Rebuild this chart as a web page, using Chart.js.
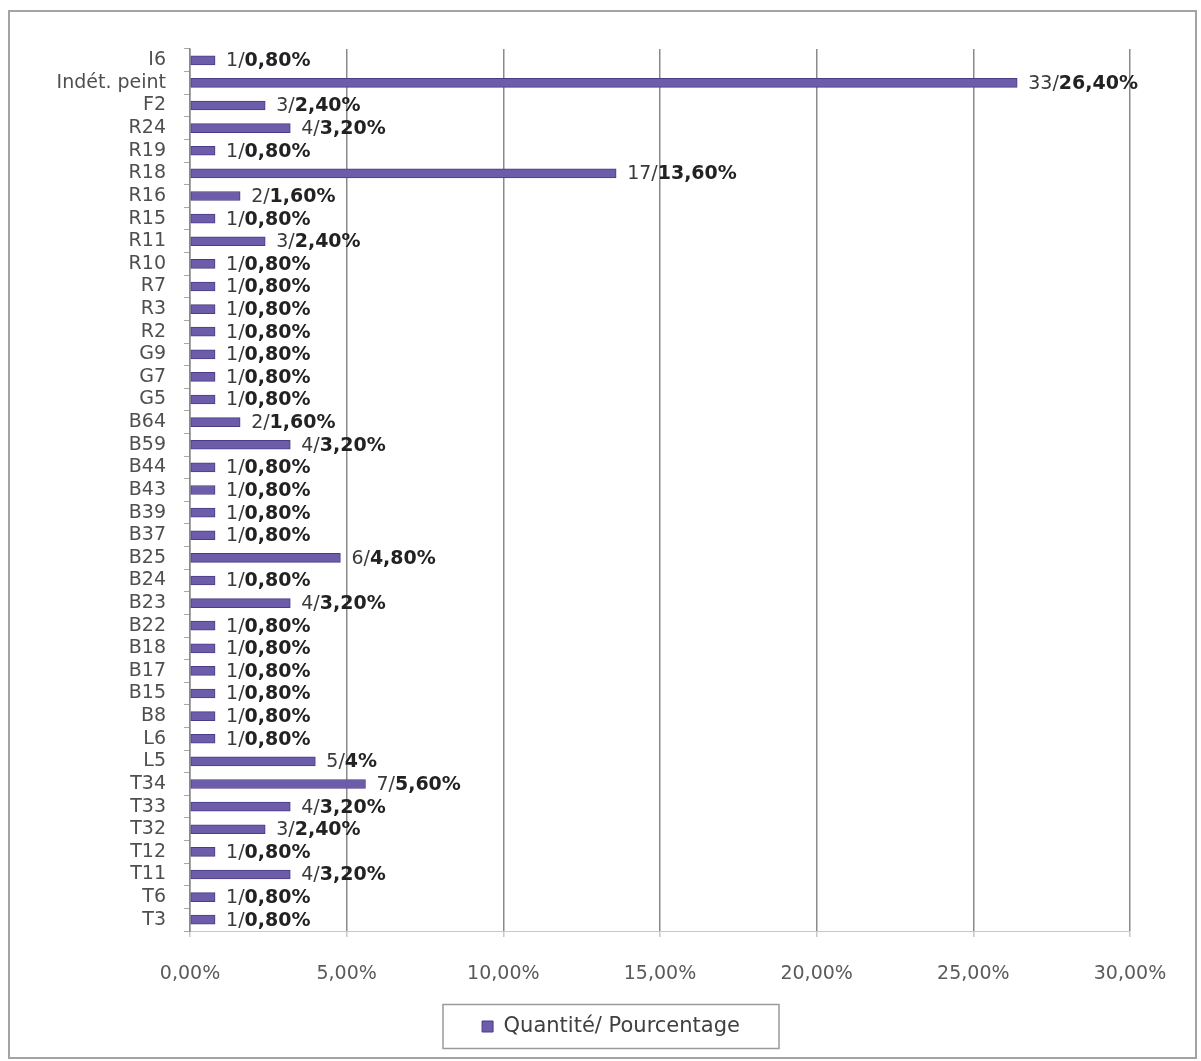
<!DOCTYPE html>
<html>
<head>
<meta charset="utf-8">
<script src="https://cdn.jsdelivr.net/npm/chart.js@4/dist/chart.umd.min.js"></script>
<style>
    html, body { margin: 0; padding: 0; background: #fff; }
    #cadre { position: absolute; left: 8px; top: 10px; width: 1185px; height: 1045px; border: 2px solid #a3a3a3; pointer-events: none; }
    #graphique { position: absolute; left: 0; top: 0; }
</style>
</head>
<body>
<canvas id="graphique" width="1201" height="1061"></canvas>
<div id="cadre"></div>
<script>
// ===============================
// Données
// ===============================
const categories = ["I6", "Indét. peint", "F2", "R24", "R19", "R18", "R16", "R15", "R11", "R10",
    "R7", "R3", "R2", "G9", "G7", "G5", "B64", "B59", "B44", "B43",
    "B39", "B37", "B25", "B24", "B23", "B22", "B18", "B17", "B15", "B8",
    "L6", "L5", "T34", "T33", "T32", "T12", "T11", "T6", "T3"];

const quantites = [1, 33, 3, 4, 1, 17, 2, 1, 3, 1,
    1, 1, 1, 1, 1, 1, 2, 4, 1, 1,
    1, 1, 6, 1, 4, 1, 1, 1, 1, 1,
    1, 5, 7, 4, 3, 1, 4, 1, 1];

const pourcentages = [0.8, 26.4, 2.4, 3.2, 0.8, 13.6, 1.6, 0.8, 2.4, 0.8,
    0.8, 0.8, 0.8, 0.8, 0.8, 0.8, 1.6, 3.2, 0.8, 0.8,
    0.8, 0.8, 4.8, 0.8, 3.2, 0.8, 0.8, 0.8, 0.8, 0.8,
    0.8, 4, 5.6, 3.2, 2.4, 0.8, 3.2, 0.8, 0.8];

const etiquettesPct = ["0,80%", "26,40%", "2,40%", "3,20%", "0,80%", "13,60%", "1,60%", "0,80%", "2,40%", "0,80%",
    "0,80%", "0,80%", "0,80%", "0,80%", "0,80%", "0,80%", "1,60%", "3,20%", "0,80%", "0,80%",
    "0,80%", "0,80%", "4,80%", "0,80%", "3,20%", "0,80%", "0,80%", "0,80%", "0,80%", "0,80%",
    "0,80%", "4%", "5,60%", "3,20%", "2,40%", "0,80%", "3,20%", "0,80%", "0,80%"];

const xTicks = [0, 5, 10, 15, 20, 25, 30];
const serieNom = "Quantité/ Pourcentage";

const police = "'DejaVu Sans', 'Open Sans', sans-serif";

// ===============================
// Plugin: étiquettes "n/ pct" après chaque barre
// ===============================
const etiquettesPlugin = {
    id: "etiquettes",
    afterDatasetsDraw(chart) {
        const ctx = chart.ctx;
        const meta = chart.getDatasetMeta(0);
        ctx.save();
        ctx.textBaseline = "middle";
        meta.data.forEach((bar, i) => {
            let x = bar.x + 11;
            const debut = quantites[i] + "/";
            ctx.font = "19px " + police;
            ctx.fillStyle = "#3a3a3a";
            ctx.fillText(debut, x, bar.y + 1);
            x += ctx.measureText(debut).width;
            ctx.font = "bold 19px " + police;
            ctx.fillStyle = "#222";
            ctx.fillText(etiquettesPct[i], x, bar.y + 1);
        });
        ctx.restore();
    }
};

// ===============================
// Plugin: légende décalée + cadre autour
// ===============================
const legendeCadrePlugin = {
    id: "legendeCadre",
    afterLayout(chart) {
        const lg = chart.legend;
        lg.left += 41;
        lg.right += 41;
    },
    afterDraw(chart) {
        const lg = chart.legend;
        const cx = (lg.left + lg.right) / 2;
        const cy = (lg.top + lg.bottom) / 2;
        const ctx = chart.ctx;
        ctx.save();
        ctx.strokeStyle = "#9a9a9a";
        ctx.lineWidth = 1.5;
        ctx.strokeRect(cx - 168, cy - 22, 336, 44);
        ctx.restore();
    }
};

// ===============================
// Graphique
// ===============================
const ctx = document.getElementById("graphique").getContext("2d");
new Chart(ctx, {
    type: "bar",
    data: {
        labels: categories,
        datasets: [{
            label: serieNom,
            data: pourcentages,
            backgroundColor: "#6d5ca9",
            borderColor: "#4a3b86",
            borderWidth: 1,
            borderSkipped: false,
            barThickness: 9
        }]
    },
    options: {
        indexAxis: "y",
        responsive: false,
        animation: false,
        layout: { padding: { left: 10, right: 71, top: 49, bottom: 14 } },
        plugins: {
            legend: {
                position: "bottom",
                labels: {
                    boxWidth: 11,
                    boxHeight: 11,
                    padding: 10,
                    color: "#404040",
                    font: { family: police, size: 21 }
                }
            },
            tooltip: { enabled: false }
        },
        scales: {
            x: {
                min: 0,
                max: 30,
                afterBuildTicks: (scale) => { scale.ticks = xTicks.map(v => ({ value: v })); },
                afterFit: (scale) => { scale.height = 75; },
                ticks: {
                    padding: 26,
                    color: "#5a5a5a",
                    font: { family: police, size: 19 },
                    callback: (v) => v.toFixed(2).replace(".", ",") + "%"
                },
                grid: { color: "#8a8a8a", lineWidth: 1.5, tickLength: 6, tickColor: "#c8c8c8" },
                border: { color: "#c8c8c8", width: 1 }
            },
            y: {
                afterFit: (scale) => { scale.width = 180; },
                ticks: {
                    padding: 18,
                    color: "#4f4f4f",
                    autoSkip: false,
                    font: { family: police, size: 19 }
                },
                grid: { drawOnChartArea: false, tickLength: 6, color: "#a8a8a8", offset: true },
                border: { color: "#8a8a8a", width: 1.5 }
            }
        }
    },
    plugins: [etiquettesPlugin, legendeCadrePlugin]
});
</script>
</body>
</html>
